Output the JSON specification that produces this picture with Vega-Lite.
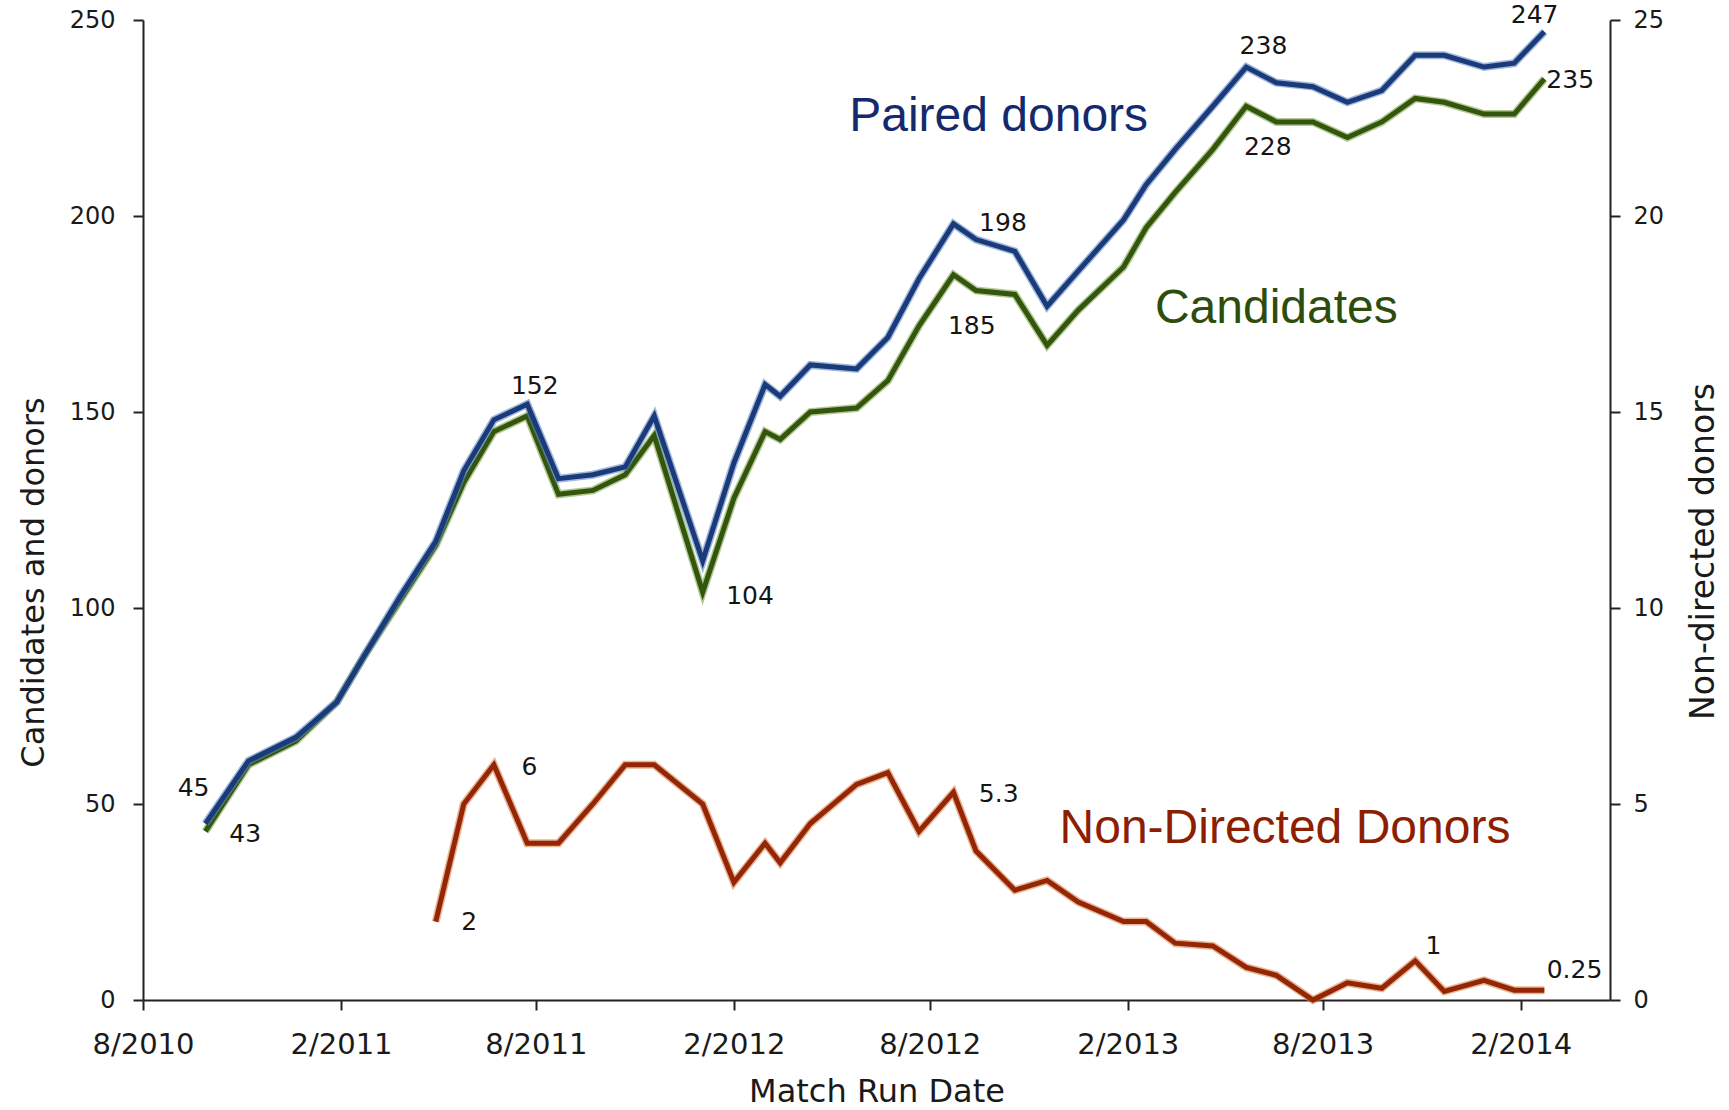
{
  "$schema": "https://vega.github.io/schema/vega-lite/v6.json",
  "width": 1467,
  "height": 980,
  "autosize": {"type": "none"},
  "padding": {"left": 143, "top": 20, "right": 119, "bottom": 110},
  "background": "white",
  "config": {
    "view": {"stroke": null},
    "font": "DejaVu Sans",
    "axis": {"grid": false, "labelFont": "DejaVu Sans", "titleFont": "DejaVu Sans", "labelColor": "#1a1a1a", "titleColor": "#1a1a1a", "domainColor": "#222222", "tickColor": "#222222", "domainWidth": 2, "tickWidth": 2, "titleFontWeight": "normal"}
  },
  "datasets": {
    "runs": [
      {"date": "2010-09-28", "paired": 45, "candidates": 43, "nondirected": null},
      {"date": "2010-11-07", "paired": 61, "candidates": 60, "nondirected": null},
      {"date": "2010-12-21", "paired": 67, "candidates": 66, "nondirected": null},
      {"date": "2011-01-28", "paired": 76, "candidates": 76, "nondirected": null},
      {"date": "2011-02-23", "paired": 88, "candidates": 88, "nondirected": null},
      {"date": "2011-03-28", "paired": 103, "candidates": 102, "nondirected": null},
      {"date": "2011-04-30", "paired": 117, "candidates": 116, "nondirected": 2},
      {"date": "2011-05-26", "paired": 135, "candidates": 132, "nondirected": 5},
      {"date": "2011-06-23", "paired": 148, "candidates": 145, "nondirected": 6},
      {"date": "2011-07-24", "paired": 152, "candidates": 149, "nondirected": 4},
      {"date": "2011-08-22", "paired": 133, "candidates": 129, "nondirected": 4},
      {"date": "2011-09-23", "paired": 134, "candidates": 130, "nondirected": 5},
      {"date": "2011-10-23", "paired": 136, "candidates": 134, "nondirected": 6},
      {"date": "2011-11-19", "paired": 149, "candidates": 144, "nondirected": 6},
      {"date": "2012-01-03", "paired": 112, "candidates": 104, "nondirected": 5},
      {"date": "2012-02-01", "paired": 137, "candidates": 128, "nondirected": 3},
      {"date": "2012-03-01", "paired": 157, "candidates": 145, "nondirected": 4},
      {"date": "2012-03-15", "paired": 154, "candidates": 143, "nondirected": 3.5},
      {"date": "2012-04-12", "paired": 162, "candidates": 150, "nondirected": 4.5},
      {"date": "2012-05-25", "paired": 161, "candidates": 151, "nondirected": 5.5},
      {"date": "2012-06-23", "paired": 169, "candidates": 158, "nondirected": 5.8},
      {"date": "2012-07-22", "paired": 184, "candidates": 172, "nondirected": 4.3},
      {"date": "2012-08-23", "paired": 198, "candidates": 185, "nondirected": 5.3},
      {"date": "2012-09-13", "paired": 194, "candidates": 181, "nondirected": 3.8},
      {"date": "2012-10-19", "paired": 191, "candidates": 180, "nondirected": 2.8},
      {"date": "2012-11-18", "paired": 177, "candidates": 167, "nondirected": 3.05},
      {"date": "2012-12-17", "paired": 186, "candidates": 176, "nondirected": 2.5},
      {"date": "2013-01-28", "paired": 199, "candidates": 187, "nondirected": 2},
      {"date": "2013-02-18", "paired": 208, "candidates": 197, "nondirected": 2},
      {"date": "2013-03-17", "paired": 217, "candidates": 206, "nondirected": 1.45},
      {"date": "2013-04-21", "paired": 228, "candidates": 217, "nondirected": 1.38},
      {"date": "2013-05-22", "paired": 238, "candidates": 228, "nondirected": 0.83},
      {"date": "2013-06-19", "paired": 234, "candidates": 224, "nondirected": 0.63},
      {"date": "2013-07-23", "paired": 233, "candidates": 224, "nondirected": 0},
      {"date": "2013-08-24", "paired": 229, "candidates": 220, "nondirected": 0.44},
      {"date": "2013-09-25", "paired": 232, "candidates": 224, "nondirected": 0.3},
      {"date": "2013-10-26", "paired": 241, "candidates": 230, "nondirected": 1},
      {"date": "2013-11-22", "paired": 241, "candidates": 229, "nondirected": 0.22},
      {"date": "2013-12-29", "paired": 238, "candidates": 226, "nondirected": 0.5},
      {"date": "2014-01-26", "paired": 239, "candidates": 226, "nondirected": 0.25},
      {"date": "2014-02-23", "paired": 247, "candidates": 235, "nondirected": 0.25}
    ],
    "leftLabels": [
      {"date": "2010-09-17", "value": 54.1, "label": "45"},
      {"date": "2010-11-04", "value": 42.3, "label": "43"},
      {"date": "2011-07-31", "value": 156.7, "label": "152"},
      {"date": "2012-02-16", "value": 103.1, "label": "104"},
      {"date": "2012-10-08", "value": 198.2, "label": "198"},
      {"date": "2012-09-09", "value": 171.9, "label": "185"},
      {"date": "2013-06-07", "value": 243.4, "label": "238"},
      {"date": "2013-06-11", "value": 217.7, "label": "228"},
      {"date": "2014-02-14", "value": 251.4, "label": "247"},
      {"date": "2014-03-19", "value": 234.6, "label": "235"}
    ],
    "rightLabels": [
      {"date": "2011-07-26", "value": 5.95, "label": "6"},
      {"date": "2011-05-31", "value": 1.98, "label": "2"},
      {"date": "2012-10-04", "value": 5.26, "label": "5.3"},
      {"date": "2013-11-12", "value": 1.39, "label": "1"},
      {"date": "2014-03-23", "value": 0.77, "label": "0.25"}
    ],
    "seriesNames": [
      {"date": "2012-10-04", "value": 221.8, "label": "Paired donors"},
      {"date": "2013-06-19", "value": 172.7, "label": "Candidates"},
      {"date": "2013-06-27", "value": 40, "label": "Non-Directed Donors"}
    ]
  },
  "encoding": {
    "x": {
      "field": "date",
      "type": "temporal",
      "scale": {
        "type": "utc",
        "domain": [
          {"year": 2010, "month": 8, "date": 1, "utc": true},
          {"year": 2014, "month": 4, "date": 25, "utc": true}
        ]
      },
      "axis": {
        "values": [
          {"year": 2010, "month": 8, "date": 1, "utc": true},
          {"year": 2011, "month": 2, "date": 1, "utc": true},
          {"year": 2011, "month": 8, "date": 1, "utc": true},
          {"year": 2012, "month": 2, "date": 1, "utc": true},
          {"year": 2012, "month": 8, "date": 1, "utc": true},
          {"year": 2013, "month": 2, "date": 1, "utc": true},
          {"year": 2013, "month": 8, "date": 1, "utc": true},
          {"year": 2014, "month": 2, "date": 1, "utc": true}
        ],
        "format": "%-m/%Y",
        "labelFontSize": 29,
        "tickSize": 10,
        "labelPadding": 20,
        "labelFlush": false,
        "labelOverlap": false,
        "title": "Match Run Date",
        "titleFontSize": 32,
        "titleY": 101,
        "titleBaseline": "alphabetic"
      }
    }
  },
  "layer": [
    {
      "encoding": {
        "y": {
          "field": "value",
          "type": "quantitative",
          "scale": {"domain": [0, 250], "nice": false},
          "axis": {
            "orient": "left",
            "values": [0, 50, 100, 150, 200, 250],
            "labelFontSize": 24,
            "tickSize": 10,
            "labelPadding": 18,
            "title": "Candidates and donors",
            "titleFontSize": 32,
            "titleAngle": 270,
            "titleAlign": "center",
            "titleBaseline": "middle",
            "titleX": -110,
            "titleY": 562
          }
        }
      },
      "layer": [
        {
          "data": {"name": "runs"},
          "transform": [{"fold": ["candidates"], "as": ["series", "value"]}],
          "mark": {"type": "line", "color": "#7ea64a", "strokeWidth": 8, "opacity": 0.6}
        },
        {
          "data": {"name": "runs"},
          "transform": [{"fold": ["candidates"], "as": ["series", "value"]}],
          "mark": {"type": "line", "color": "#33550e", "strokeWidth": 5}
        },
        {
          "data": {"name": "runs"},
          "transform": [{"fold": ["paired"], "as": ["series", "value"]}],
          "mark": {"type": "line", "color": "#5f88c4", "strokeWidth": 8, "opacity": 0.6}
        },
        {
          "data": {"name": "runs"},
          "transform": [{"fold": ["paired"], "as": ["series", "value"]}],
          "mark": {"type": "line", "color": "#1a3a7a", "strokeWidth": 5}
        },
        {
          "data": {"name": "leftLabels"},
          "mark": {"type": "text", "font": "DejaVu Sans", "fontSize": 25, "color": "#151515", "align": "center", "baseline": "middle"},
          "encoding": {"text": {"field": "label", "type": "nominal"}}
        },
        {
          "data": {"name": "seriesNames"},
          "mark": {"type": "text", "font": "Liberation Sans", "fontSize": 48, "align": "center", "baseline": "alphabetic"},
          "encoding": {
            "text": {"field": "label", "type": "nominal"},
            "color": {
              "field": "label",
              "type": "nominal",
              "scale": {"domain": ["Paired donors", "Candidates", "Non-Directed Donors"], "range": ["#142a6c", "#2e4c0c", "#8e1e02"]},
              "legend": null
            }
          }
        }
      ]
    },
    {
      "encoding": {
        "y": {
          "field": "value",
          "type": "quantitative",
          "scale": {"domain": [0, 25], "nice": false},
          "axis": {
            "orient": "right",
            "values": [0, 5, 10, 15, 20, 25],
            "labelFontSize": 24,
            "tickSize": 10,
            "labelPadding": 13,
            "title": "Non-directed donors",
            "titleFontSize": 33,
            "titleAngle": 270,
            "titleAlign": "center",
            "titleBaseline": "middle",
            "titleX": 93,
            "titleY": 531
          }
        }
      },
      "layer": [
        {
          "data": {"name": "runs"},
          "transform": [{"fold": ["nondirected"], "as": ["series", "value"]}],
          "mark": {"type": "line", "color": "#d9844f", "strokeWidth": 8, "opacity": 0.6}
        },
        {
          "data": {"name": "runs"},
          "transform": [{"fold": ["nondirected"], "as": ["series", "value"]}],
          "mark": {"type": "line", "color": "#952605", "strokeWidth": 5}
        },
        {
          "data": {"name": "rightLabels"},
          "mark": {"type": "text", "font": "DejaVu Sans", "fontSize": 25, "color": "#151515", "align": "center", "baseline": "middle"},
          "encoding": {"text": {"field": "label", "type": "nominal"}}
        }
      ]
    }
  ],
  "resolve": {"scale": {"y": "independent"}}
}
